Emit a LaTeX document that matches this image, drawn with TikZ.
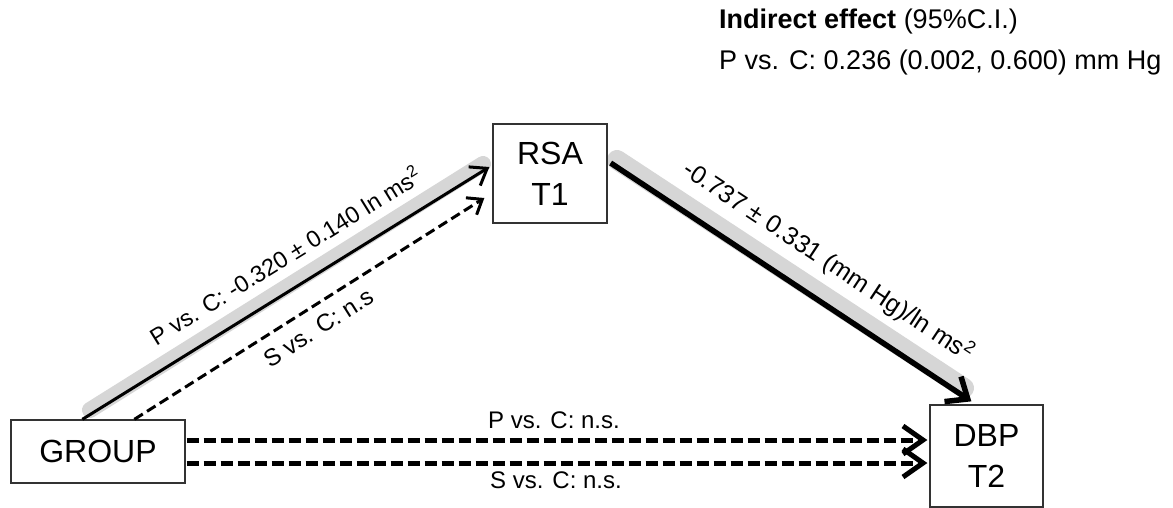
\documentclass[tikz,border=0pt]{standalone}
\usepackage{fontspec}
\setmainfont{Liberation Sans}
\usetikzlibrary{arrows.meta,calc}
\pgfdeclarelayer{background}
\pgfsetlayers{background,main}
\begin{document}
\begin{tikzpicture}[x=1pt,y=-1pt,
  box/.style={draw=black!80, line width=1.3pt, fill=white, inner sep=0pt,
              align=center, font=\fontsize{32}{41}\selectfont},
  band/.style={draw=gray!32, line cap=round},
  lbl/.style={font=\fontsize{24}{28}\selectfont, inner sep=0pt},
  lblmid/.style={font=\fontsize{23.5}{28}\selectfont, inner sep=0pt},
  lblbig/.style={font=\fontsize{25}{29}\selectfont, inner sep=0pt},
  note/.style={font=\fontsize{27}{32}\selectfont, inner sep=0pt, anchor=base west},
  solidarrow/.style={line width=3pt, -{Straight Barb[length=15pt,width=22pt]}},
  dasharrow/.style={line width=3pt, dash pattern=on 10pt off 5pt,
                    -{Straight Barb[length=13pt,width=20pt]}},
  heavyarrow/.style={line width=5.5pt, -{Straight Barb[length=18pt,width=30pt]}},
  heavydash/.style={line width=5pt, dash pattern=on 12pt off 5pt,
                    -{Straight Barb[length=20pt,width=28pt]}}
]
\useasboundingbox (0,0) rectangle (1173,508);

% boxes
\node[box, minimum width=174pt, minimum height=63pt] (group) at (98,451.5) {GROUP};
\node[box, minimum width=114pt, minimum height=99pt] (rsa) at (550,173.5) {RSA\\T1};
\node[box, minimum width=113pt, minimum height=102pt] (dbp) at (986.5,456) {DBP\\T2};

% connector end points on the box borders
\coordinate (gA) at ($(group.north west)+(72,0)$);
\coordinate (rA) at ($(rsa.west)+(-3,-6.5)$);
\coordinate (gB) at ($(group.north west)+(124,0)$);
\coordinate (rB) at ($(rsa.west)+(-8,24.5)$);
\coordinate (rC) at ($(rsa.east)+(3,-10.5)$);
\coordinate (dC) at ($(dbp.north west)+(42,-3)$);
\coordinate (gD) at ($(group.east)+(1,-11.5)$);
\coordinate (dD) at ($(dbp.west)+(-2,-16)$);
\coordinate (gE) at ($(group.east)+(1,11.5)$);
\coordinate (dE) at ($(dbp.west)+(-2,7)$);

% highlighted (significant) paths
\coordinate (b1s) at (90,410);
\coordinate (b1e) at (483,164);
\coordinate (b2s) at (617,160);
\coordinate (b2e) at (964,388);
\begin{pgfonlayer}{background}
  \draw[band, line width=16pt] (b1s) -- (b1e);
  \draw[band, line width=20pt] (b2s) -- (b2e);
\end{pgfonlayer}

% paths
\draw[solidarrow] (gA) -- (rA);
\draw[dasharrow] (gB) -- (rB);
\draw[heavyarrow] (rC) -- (dC);
\draw[heavydash] (gD) -- (dD);
\draw[heavydash] (gE) -- (dE);

% path labels
\path (gA) -- (rA) node[lblmid, sloped, pos=0.54, yshift=33pt]
  {P vs. C: -0.320 ± 0.140 ln ms\textsuperscript{2}};
\path (gB) -- (rB) node[lbl, sloped, pos=0.494, yshift=-21pt] {S vs. C: n.s};
\path (rC) -- (dC) node[lblbig, sloped, pos=0.545, yshift=38pt]
  {-0.737 ± 0.331 (mm Hg)/ln ms\textsuperscript{2}};
\node[lbl, anchor=base] (lp) at (554,428) {P vs. C: n.s.};
\node[lbl, anchor=base] (ls) at (556,488) {S vs. C: n.s.};

% indirect effect summary
\node[note] (ie) at (719,29) {\textbf{Indirect effect} (95\%C.I.)};
\node[note] (pc) at (719,70) {P vs. C: 0.236 (0.002, 0.600) mm Hg};
\end{tikzpicture}
\end{document}
